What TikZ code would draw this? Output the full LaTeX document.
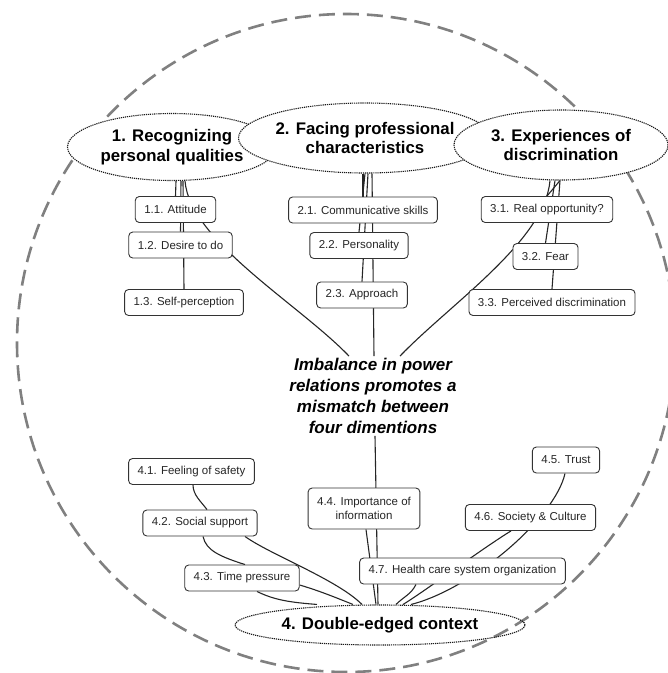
\documentclass[tikz,border=0pt]{standalone}
\usepackage{fontspec}
\setmainfont{Liberation Sans}
\usetikzlibrary{shapes.geometric,backgrounds}

\tikzset{
  theme/.style={ellipse, draw=black!90, fill=white, dash pattern=on 1.2pt off 0.9pt, line width=1.1pt, inner sep=0pt, align=center, font=\fontsize{16.8}{19.5}\selectfont\bfseries},
  sub/.style={draw=black!80, solid, rounded corners=4pt, fill=white, line width=0.9pt, minimum height=26pt, inner xsep=9pt, inner ysep=3pt, align=center, text=black!85, font=\fontsize{11.5}{14}\selectfont},
  link/.style={draw=black!85, line width=1.1pt},
  rim/.style={draw=black!50, line width=2.6pt, dash pattern=on 16pt off 8pt}
}

\begin{document}
\begin{tikzpicture}[x=1pt,y=-1pt]
\useasboundingbox (0,0) rectangle (668,673);

\node[theme, minimum width=209pt, minimum height=67pt] (rec) at (172,147) {1. Recognizing\\personal qualities};
\node[theme, minimum width=250pt, minimum height=70pt] (fac) at (365,138) {2. Facing professional\\characteristics};
\node[theme, minimum width=214pt, minimum height=70pt] (exp) at (561,145) {3. Experiences of\\discrimination};
\node[theme, fill=none, minimum width=290pt, minimum height=40pt] (ctx) at (380,625) {4. Double-edged context};

\node[align=center, inner sep=2pt, font=\fontsize{17}{21}\selectfont\bfseries\itshape] (core) at (373,396)
  {Imbalance in power\\relations promotes a\\mismatch between\\four dimentions};

\node[sub] (att) at (175.5,209.5) {1.1. Attitude};
\node[sub] (des) at (180.5,245) {1.2. Desire to do};
\node[sub] (self) at (184,302.5) {1.3. Self-perception};

\node[sub] (comm) at (363,210) {2.1. Communicative skills};
\node[sub] (pers) at (359,245.5) {2.2. Personality};
\node[sub] (appr) at (362,295) {2.3. Approach};

\node[sub] (real) at (547,209.5) {3.1. Real opportunity?};
\node[sub] (fear) at (545.5,256.5) {3.2. Fear};
\node[sub] (perc) at (552,302.5) {3.3. Perceived discrimination};

\node[sub] (safe) at (191.5,471.5) {4.1. Feeling of safety};
\node[sub] (supp) at (200,523) {4.2. Social support};
\node[sub] (time) at (242,578) {4.3. Time pressure};
\node[sub, minimum height=41pt] (info) at (364,508.5) {4.4. Importance of\\information};
\node[sub] (trust) at (566,460) {4.5. Trust};
\node[sub] (soc) at (530.5,517.5) {4.6. Society \& Culture};
\node[sub] (hcs) at (462.5,571) {4.7. Health care system organization};

\begin{scope}[on background layer]
\draw[rim] (346,343) circle [radius=329pt];

\draw[link] ([xshift=4pt]rec.south) -- (att.north);
\draw[link] ([xshift=9pt]rec.south) -- (des.north);
\draw[link] ([xshift=11pt]rec.south) -- (self.north);
\draw[link] ([xshift=13pt]rec.south) .. controls +(5,60) and +(-50,-52) .. ([xshift=-24pt]core.north);

\draw[link] ([xshift=-2pt]fac.south) -- (comm.north);
\draw[link] (fac.south) -- (pers.north);
\draw[link] ([xshift=3pt]fac.south) -- (appr.north);
\draw[link] ([xshift=7pt]fac.south) -- ([xshift=1pt]core.north);

\draw[link] ([xshift=-1pt]exp.south) -- (real.north);
\draw[link] ([xshift=-6pt]exp.south) -- (fear.north);
\draw[link] ([xshift=-1pt]exp.south) -- (perc.north);
\draw[link] ([xshift=-11pt]exp.south) .. controls +(-5,60) and +(50,-52) .. ([xshift=27pt]core.north);

\draw[link] ([xshift=-2pt]ctx.north) -- ([xshift=2pt]core.south);
\draw[link] ([xshift=-4pt]ctx.north) -- ([xshift=2pt]info.south);
\draw[link] ([xshift=-27pt]ctx.north) .. controls +(-20,-8) and +(20,6) .. ([yshift=-7pt]time.east);
\draw[link] ([xshift=-63pt]ctx.north) .. controls +(-25,-2) and +(18,9) .. ([xshift=15pt]time.south);
\draw[link] ([xshift=3pt]time.north) .. controls +(-25,-8) and +(3,14) .. ([xshift=3pt]supp.south);
\draw[link] ([xshift=7pt]supp.north) .. controls +(-6,-8) and +(0,10) .. ([xshift=1.5pt]safe.south);
\draw[link] ([xshift=45pt]supp.south) .. controls +(25,18) and +(-25,-25) .. ([xshift=-18pt]ctx.north);
\draw[link] ([xshift=16pt]ctx.north) .. controls +(8,-8) and +(-5,10) .. ([xshift=-46.5pt]hcs.south);
\draw[link] ([xshift=23pt]ctx.north) .. controls +(20,-12) and +(-25,15) .. ([xshift=-19.5pt]soc.south);
\draw[link] ([xshift=31pt]ctx.north) .. controls +(60,-15) and +(-10,45) .. ([xshift=-1pt]trust.south);
\end{scope}
\end{tikzpicture}
\end{document}
